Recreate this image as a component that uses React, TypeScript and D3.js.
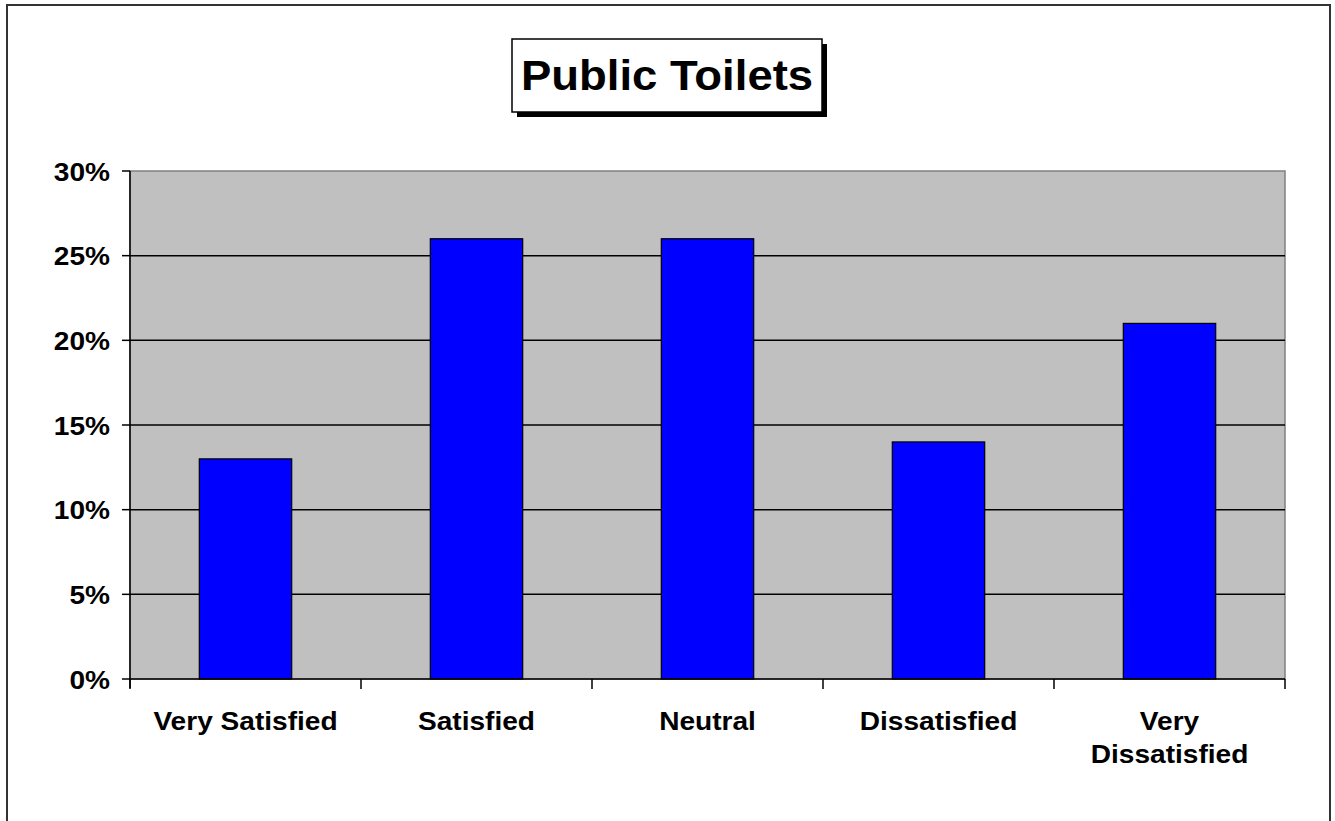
import React from "react";
import * as d3 from "d3";

const categories = ["Very Satisfied", "Satisfied", "Neutral", "Dissatisfied", "Very Dissatisfied"];
const labelLines = [["Very Satisfied"], ["Satisfied"], ["Neutral"], ["Dissatisfied"], ["Very", "Dissatisfied"]];
const values = [0.13, 0.26, 0.26, 0.14, 0.21];
const yTicks = [0, 0.05, 0.1, 0.15, 0.2, 0.25, 0.3];
const title = "Public Toilets";

export default function App() {
  const width = 1335;
  const height = 821;
  const plot = { left: 130, right: 1285, top: 171, bottom: 679 };
  const font = "'Liberation Sans', Arial, sans-serif";
  const stretch = 1.08;

  const x = d3.scaleBand<string>()
    .domain(categories)
    .range([plot.left, plot.right])
    .paddingInner(0.6)
    .paddingOuter(0.3);
  const y = d3.scaleLinear().domain([0, 0.3]).range([plot.bottom, plot.top]);
  const fmt = d3.format(".0%");

  // category boundaries for the x ticks
  const bounds = categories.map((c) => x(c)! - (x.step() - x.bandwidth()) / 2);
  bounds.push(plot.right);

  return (
    <svg width={width} height={height} style={{ position: "absolute", left: 0, top: 0 }}>
      <rect x={0} y={0} width={width} height={height} fill="#fff" />
      {/* outer frame */}
      <path d={`M7,${height + 5} V5 H1330 V${height + 5}`} fill="none" stroke="#333" strokeWidth={2} />

      {/* title box with shadow */}
      <rect x={517} y={44} width={310} height={73} fill="#000" />
      <rect x={512} y={39} width={310} height={73} fill="#fff" stroke="#000" strokeWidth={1.5} />
      <g transform={`translate(667,90) scale(1.07,1)`}>
        <text textAnchor="middle" fontFamily={font} fontWeight="bold" fontSize={42.5} fill="#000">
          {title}
        </text>
      </g>

      {/* plot area */}
      <rect x={plot.left} y={plot.top} width={plot.right - plot.left} height={plot.bottom - plot.top}
        fill="#c0c0c0" stroke="#808080" strokeWidth={1.5} />
      {yTicks.filter((t) => t > 0 && t < 0.3).map((t) => (
        <line key={t} x1={plot.left} x2={plot.right} y1={y(t)} y2={y(t)} stroke="#000" strokeWidth={1.5} />
      ))}

      {/* bars */}
      {values.map((v, i) => (
        <rect key={categories[i]} x={x(categories[i])} y={y(v)} width={x.bandwidth()} height={y(0) - y(v)}
          fill="#0000ff" stroke="#000" strokeWidth={1.2} />
      ))}

      {/* y axis */}
      <line x1={plot.left} x2={plot.left} y1={plot.top} y2={plot.bottom + 9} stroke="#000" strokeWidth={1.5} />
      {yTicks.map((t) => (
        <g key={t}>
          <line x1={plot.left - 8} x2={plot.left} y1={y(t)} y2={y(t)} stroke="#000" strokeWidth={1.5} />
          <g transform={`translate(${plot.left - 20},${y(t) + 9.5}) scale(${stretch},1)`}>
            <text textAnchor="end" fontFamily={font} fontWeight="bold" fontSize={26} fill="#000">
              {fmt(t)}
            </text>
          </g>
        </g>
      ))}

      {/* x axis */}
      <line x1={plot.left} x2={plot.right} y1={plot.bottom} y2={plot.bottom} stroke="#000" strokeWidth={1.5} />
      {bounds.map((b, i) => (
        <line key={i} x1={b} x2={b} y1={plot.bottom} y2={plot.bottom + 10} stroke="#000" strokeWidth={1.5} />
      ))}
      {categories.map((c, i) => (
        <g key={c} transform={`translate(${x(c)! + x.bandwidth() / 2},730) scale(${stretch},1)`}>
          <text textAnchor="middle" fontFamily={font} fontWeight="bold" fontSize={26} fill="#000">
            {labelLines[i].map((line, j) => (
              <tspan key={j} x={0} y={j * 33}>{line}</tspan>
            ))}
          </text>
        </g>
      ))}
    </svg>
  );
}
